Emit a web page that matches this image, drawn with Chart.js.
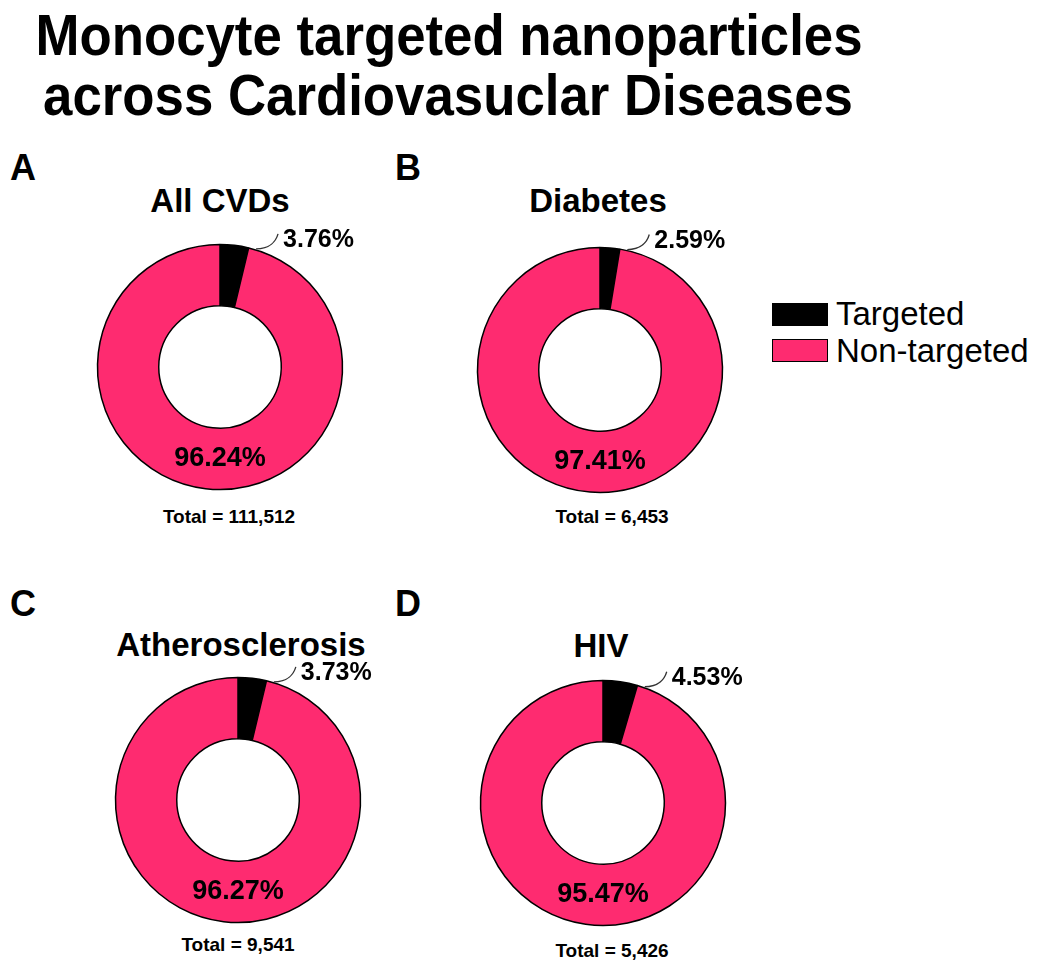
<!DOCTYPE html>
<html>
<head>
<meta charset="utf-8">
<script src="https://cdn.jsdelivr.net/npm/chart.js@4.4.0/dist/chart.umd.min.js"></script>
<style>
  html, body { margin: 0; padding: 0; background: #fff; }
  #page { position: relative; width: 1050px; height: 971px; overflow: hidden;
          font-family: 'Liberation Sans', Arial, sans-serif; color: #000; }
  .txt { position: absolute; white-space: nowrap; }
  .chart-box { position: absolute; width: 320px; height: 320px; }
  .swatch { position: absolute; width: 56px; height: 23px; box-sizing: border-box;
            border: 1.5px solid #000; }
</style>
</head>
<body>
<div id="page"></div>

<script>
// data
const diseases = ['All CVDs', 'Diabetes', 'Atherosclerosis', 'HIV'];
const panelLetters = ['A', 'B', 'C', 'D'];
const categories = ['Targeted', 'Non-targeted'];
const targetedPct = [3.76, 2.59, 3.73, 4.53];
const nonTargetedPct = [96.24, 97.41, 96.27, 95.47];
const totals = [111512, 6453, 9541, 5426];
const sliceColors = ['#000000', '#fe2b70'];

// where each panel sits on the page
const panels = [
    { cx: 220, cy: 367, titleX: 220, titleY: 212, letterX: 10, letterY: 180, totalX: 229, totalY: 523 },
    { cx: 600, cy: 370, titleX: 598, titleY: 212, letterX: 395, letterY: 180, totalX: 612, totalY: 523 },
    { cx: 238, cy: 800, titleX: 241, titleY: 656, letterX: 10, letterY: 616, totalX: 238, totalY: 951 },
    { cx: 603, cy: 803, titleX: 601, titleY: 657, letterX: 395, letterY: 616, totalX: 612, totalY: 957 }
];

const page = document.getElementById('page');

// put a line of text so that its baseline lands on y
function addText(text, x, baseline, size, weight, align, squeeze) {
    const d = document.createElement('div');
    d.className = 'txt';
    d.textContent = text;
    d.style.font = weight + ' ' + size + 'px "Liberation Sans", Arial, sans-serif';
    d.style.lineHeight = size + 'px';
    d.style.top = (baseline - 0.8465 * size) + 'px';
    d.style.left = x + 'px';
    let tf = align === 'center' ? 'translateX(-50%)' : '';
    if (squeeze) tf += ' scaleX(' + squeeze + ')';
    if (tf) d.style.transform = tf;
    page.appendChild(d);
    return d;
}

// main title
addText('Monocyte targeted nanoparticles', 449, 55, 58, 'bold', 'center', 0.91);
addText('across Cardiovasuclar Diseases', 448, 115, 58, 'bold', 'center', 0.91);

// legend
categories.forEach((c, i) => {
    const sw = document.createElement('div');
    sw.className = 'swatch';
    sw.style.left = '772px';
    sw.style.top = (303 + i * 36) + 'px';
    sw.style.background = sliceColors[i];
    page.appendChild(sw);
    addText(c, 836, 325 + i * 37, 33, 'normal', 'left');
});

// percentage labels + leader line for the small slice
const pctLabels = {
    id: 'pctLabels',
    afterDatasetsDraw(chart) {
        const ctx = chart.ctx;
        const meta = chart.getDatasetMeta(0);
        const vals = chart.data.datasets[0].data;
        const small = meta.data[0].getProps(['x', 'y', 'startAngle', 'endAngle', 'innerRadius', 'outerRadius'], true);
        const big = meta.data[1].getProps(['x', 'y', 'innerRadius', 'outerRadius'], true);

        ctx.save();
        ctx.fillStyle = '#000';

        // big slice: bottom of the ring
        ctx.font = 'bold 27px "Liberation Sans", Arial, sans-serif';
        ctx.textAlign = 'center';
        ctx.textBaseline = 'middle';
        ctx.fillText(vals[1].toFixed(2) + '%', big.x, big.y + (big.innerRadius + big.outerRadius) / 2);

        // small slice: curved leader to the upper right
        const a = small.endAngle + 0.06;
        const r = small.outerRadius + 1;
        const x0 = small.x + r * Math.cos(a);
        const y0 = small.y + r * Math.sin(a);
        const x1 = x0 + 22;
        const y1 = y0 - 15;
        ctx.strokeStyle = '#333';
        ctx.lineWidth = 1.3;
        ctx.beginPath();
        ctx.moveTo(x0, y0);
        ctx.bezierCurveTo(x0 + 14, y0, x1 - 2, y1 + 7, x1, y1);
        ctx.stroke();

        ctx.font = 'bold 25px "Liberation Sans", Arial, sans-serif';
        ctx.textAlign = 'left';
        ctx.textBaseline = 'alphabetic';
        ctx.fillText(vals[0].toFixed(2) + '%', x1 + 5, y1 + 13);
        ctx.restore();
    }
};

diseases.forEach((name, i) => {
    const p = panels[i];

    addText(panelLetters[i], p.letterX, p.letterY, 36, 'bold', 'left');
    addText(name, p.titleX, p.titleY, 33, 'bold', 'center');
    addText('Total = ' + totals[i].toLocaleString('en-US'), p.totalX, p.totalY, 19, 'bold', 'center');

    const box = document.createElement('div');
    box.className = 'chart-box';
    box.style.left = (p.cx - 160) + 'px';
    box.style.top = (p.cy - 160) + 'px';
    const cv = document.createElement('canvas');
    box.appendChild(cv);
    page.appendChild(box);

    new Chart(cv, {
        type: 'doughnut',
        data: {
            labels: categories,
            datasets: [{
                data: [targetedPct[i], nonTargetedPct[i]],
                backgroundColor: sliceColors,
                borderColor: '#000',
                borderWidth: 1.5
            }]
        },
        options: {
            responsive: true,
            maintainAspectRatio: false,
            animation: false,
            events: [],
            radius: 122.5,
            cutout: '50%',
            layout: { padding: 0 },
            plugins: {
                legend: { display: false },
                tooltip: { enabled: false }
            }
        },
        plugins: [pctLabels]
    });
});
</script>
</body>
</html>
